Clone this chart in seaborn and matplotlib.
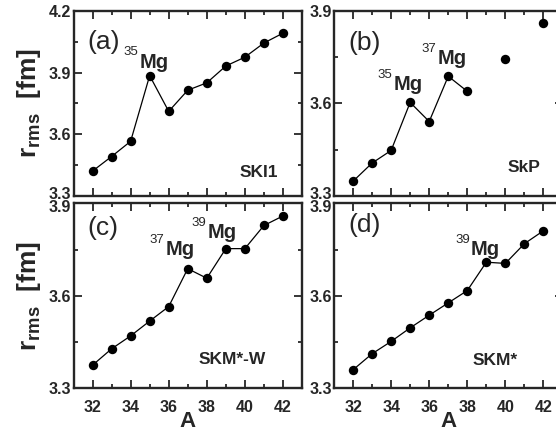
import matplotlib
matplotlib.use("Agg")
import matplotlib.pyplot as plt
from matplotlib.ticker import MultipleLocator
from matplotlib.transforms import ScaledTranslation
import seaborn as sns
import pandas as pd

# ---- data ----
A = [32, 33, 34, 35, 36, 37, 38, 39, 40, 41, 42]
r_ski1 = [3.420, 3.491, 3.565, 3.885, 3.711, 3.814, 3.850, 3.932, 3.975, 4.044, 4.092]
A_skp = [32, 33, 34, 35, 36, 37, 38, 40, 42]
r_skp = [3.347, 3.406, 3.447, 3.603, 3.541, 3.688, 3.639, 3.743, 3.860]
skp_line_n = 7  # first 7 points joined by a line
r_skmw = [3.375, 3.428, 3.470, 3.518, 3.565, 3.688, 3.657, 3.753, 3.753, 3.828, 3.859]
r_skm = [3.360, 3.412, 3.452, 3.496, 3.537, 3.577, 3.617, 3.709, 3.705, 3.769, 3.811]

panel_tags = ["(a)", "(b)", "(c)", "(d)"]
force_names = ["SKI1", "SkP", "SKM*-W", "SKM*"]
ylims = [(3.3, 4.2), (3.3, 3.9), (3.3, 3.9), (3.3, 3.9)]

sns.set_style("ticks")
plt.rcParams["font.family"] = ["Liberation Sans", "DejaVu Sans"]
plt.rcParams["mathtext.fontset"] = "custom"
plt.rcParams["mathtext.rm"] = "Liberation Sans:bold"
plt.rcParams["mathtext.bf"] = "Liberation Sans:bold"

W, H = 556, 433
fig = plt.figure(figsize=(W / 100, H / 100), dpi=100)

def frac(x0, y_top, w, h):
    return [x0 / W, 1 - (y_top + h) / H, w / W, h / H]

axw = 228.5
pos = [frac(73.5, 11.0, axw, 184.7), frac(334.0, 11.0, axw, 184.7),
       frac(73.5, 203.3, axw, 185.0), frac(334.0, 203.3, axw, 185.0)]
axes = [fig.add_axes(p) for p in pos]

dfs = [
    pd.DataFrame({"A": A, "r": r_ski1}),
    pd.DataFrame({"A": A_skp, "r": r_skp}),
    pd.DataFrame({"A": A, "r": r_skmw}),
    pd.DataFrame({"A": A, "r": r_skm}),
]

for i, (ax, df) in enumerate(zip(axes, dfs)):
    line_df = df.iloc[:skp_line_n] if i == 1 else df
    sns.lineplot(data=line_df, x="A", y="r", ax=ax, color="black", lw=0.9)
    sns.scatterplot(data=df, x="A", y="r", ax=ax, color="black", s=46,
                    edgecolor="black", linewidth=0, zorder=3)
    ax.set_xlim(31, 43)
    ax.set_ylim(*ylims[i])
    ax.xaxis.set_major_locator(MultipleLocator(2))
    ax.xaxis.set_minor_locator(MultipleLocator(1))
    ax.yaxis.set_major_locator(MultipleLocator(0.3))
    ax.yaxis.set_minor_locator(MultipleLocator(0.15))
    ax.tick_params(which="both", direction="in", top=True, right=True, width=1.3)
    ax.tick_params(which="major", length=5.5)
    ax.tick_params(which="minor", length=3)
    ax.tick_params(axis="y", pad=1.5)
    ax.tick_params(axis="x", pad=8.5)
    for sp in ax.spines.values():
        sp.set_linewidth(1.7)
    for lab in ax.get_xticklabels() + ax.get_yticklabels():
        lab.set_fontweight("bold")
        lab.set_fontsize(11.5)
    ax.set_ylabel("")
    ax.set_xlabel("")
    if i < 2:
        ax.tick_params(axis="x", labelbottom=False)
    else:
        ax.set_xlabel("A", fontsize=16, fontweight="bold", labelpad=-3)
    if i % 2 == 0:
        ax.set_ylabel(r"$\mathrm{r}_{\mathrm{rms}}$  [fm]", fontsize=19,
                      fontweight="bold", labelpad=4)

# panel tags
tag_pos = [(31.72, 4.05), (31.77, 3.795), (31.72, 3.819), (31.77, 3.83)]
for ax, t, (x, y) in zip(axes, panel_tags, tag_pos):
    ax.text(x, y, t, fontsize=19, ha="left", va="center")

# force names
name_pos = [(39.74, 3.411), (40.14, 3.393), (37.59, 3.395), (38.28, 3.389)]
for ax, t, (x, y) in zip(axes, force_names, name_pos):
    ax.text(x, y, t, fontsize=12.5, fontweight="bold", ha="left", va="center")

# isotope labels
def iso(ax, x, y, mass):
    ax.text(x, y, "Mg", fontsize=14.5, fontweight="bold", ha="left", va="center")
    ax.annotate(mass, xy=(x, y), xytext=(-1, 7), textcoords="offset points",
                fontsize=9.5, ha="right", va="center")

iso(axes[0], 34.49, 3.951, "35")
iso(axes[1], 34.11, 3.660, "35")
iso(axes[1], 36.45, 3.746, "37")
iso(axes[2], 35.84, 3.749, "37")
iso(axes[2], 38.03, 3.805, "39")
iso(axes[3], 38.20, 3.749, "39")

# separate the touching 3.3 / 3.9 labels between the two rows a little
fig.canvas.draw()
up = ScaledTranslation(0, 3 / 100, fig.dpi_scale_trans)
down = ScaledTranslation(0, -3 / 100, fig.dpi_scale_trans)
for ax in axes[:2]:
    for lab in ax.get_yticklabels():
        if lab.get_text() == "3.3":
            lab.set_transform(lab.get_transform() + up)
for ax in axes[2:]:
    for lab in ax.get_yticklabels():
        if lab.get_text() == "3.9":
            lab.set_transform(lab.get_transform() + down)

fig.savefig("out.png", dpi=100)
